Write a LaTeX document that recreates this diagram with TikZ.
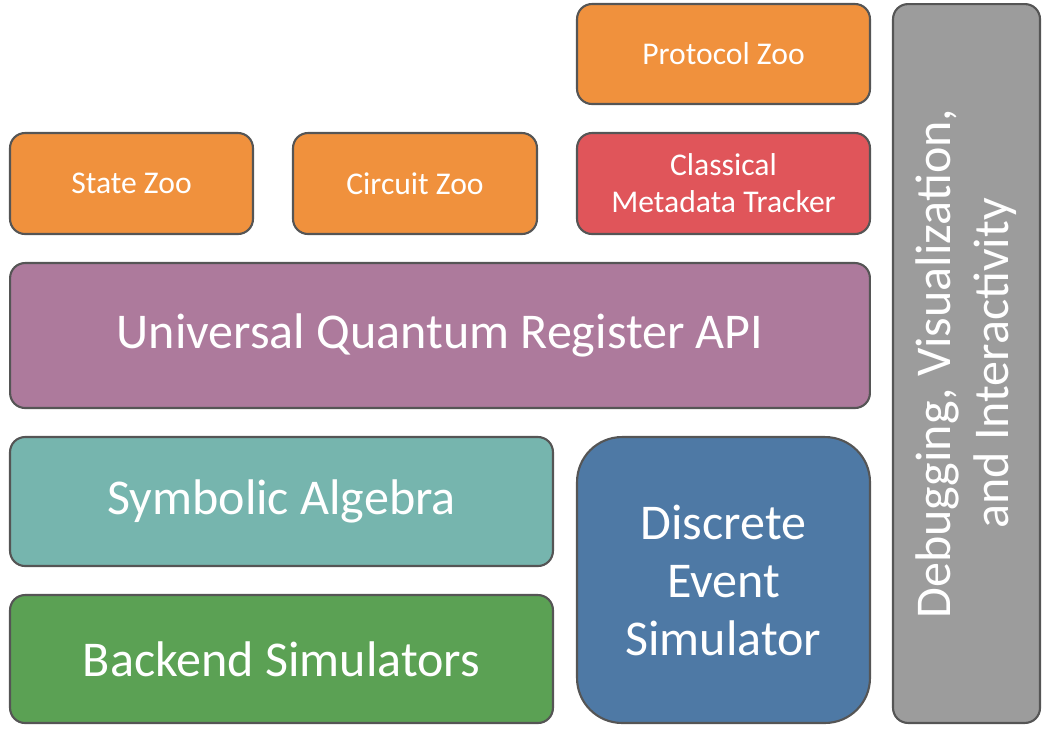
\documentclass[tikz,border=0pt]{standalone}
\usepackage{fontspec}
\setmainfont{Carlito}
\definecolor{zooorange}{HTML}{F0913D}
\definecolor{trackred}{HTML}{E0555A}
\definecolor{apipurple}{HTML}{AD7A9C}
\definecolor{symteal}{HTML}{76B5AE}
\definecolor{backgreen}{HTML}{5BA154}
\definecolor{desblue}{HTML}{4E79A5}
\definecolor{debuggray}{HTML}{9C9C9C}
\definecolor{edgegray}{HTML}{555555}

\begin{document}
\begin{tikzpicture}[x=0.02cm,y=-0.02cm,
    blk/.style={draw=edgegray,line width=1.2pt,rounded corners=0.3cm,
        text=white,align=center,inner sep=0pt},
    small/.style={blk,font=\fontsize{18}{21}\selectfont},
    big/.style={blk,font=\fontsize{28.5}{33}\selectfont}]
    % Page frame
    \useasboundingbox (0,0) rectangle (1050,735);

    % Top row: zoos and tracker
    \node[small,fill=zooorange,minimum width=5.86cm,minimum height=2cm]
        (protocol) at (723.5,54) {Protocol Zoo};
    \node[small,fill=zooorange,minimum width=4.86cm,minimum height=2.02cm]
        (state) at (131.5,183.5) {State Zoo};
    \node[small,fill=zooorange,minimum width=4.88cm,minimum height=2.02cm]
        (circuit) at (415,183.5) {Circuit Zoo};
    \node[small,fill=trackred,minimum width=5.86cm,minimum height=2.02cm]
        (tracker) at (723.5,183.5) {Classical\\Metadata Tracker};

    % Register API
    \node[big,fill=apipurple,minimum width=17.2cm,minimum height=2.9cm]
        (api) at (440,335.5) {Universal Quantum Register API};

    % Lower blocks
    \node[big,fill=symteal,minimum width=10.86cm,minimum height=2.58cm]
        (symbolic) at (281.5,501.5) {Symbolic Algebra};
    \node[big,fill=backgreen,minimum width=10.86cm,minimum height=2.56cm]
        (backend) at (281.5,659) {Backend Simulators};
    \node[big,fill=desblue,rounded corners=0.9cm,minimum width=5.86cm,minimum height=5.72cm]
        (des) at (723.5,580) {Discrete\\Event\\Simulator};

    % Side bar
    \node[big,fill=debuggray,rotate=90,minimum width=14.38cm,minimum height=2.94cm]
        (debug) at (966.5,363.5) {Debugging, Visualization,\\and Interactivity};
\end{tikzpicture}
\end{document}
